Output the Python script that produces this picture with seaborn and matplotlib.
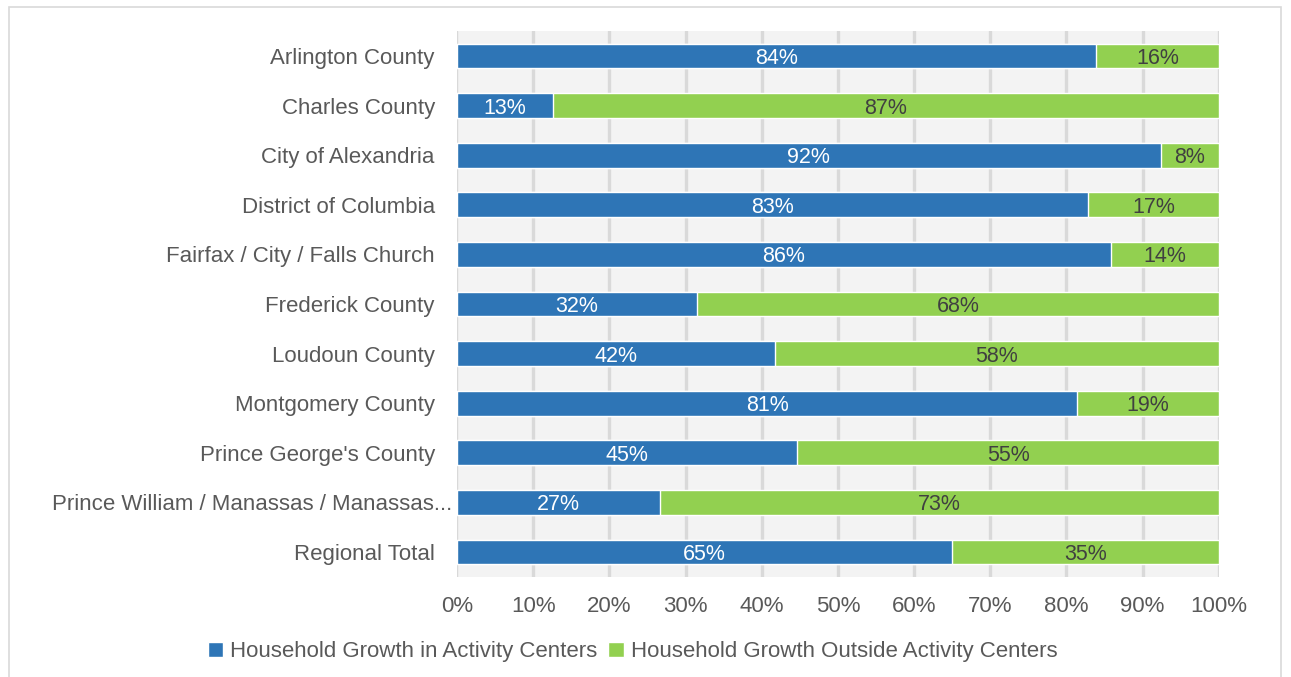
import matplotlib
matplotlib.use("Agg")
import matplotlib.pyplot as plt
import matplotlib.transforms as mtransforms
from matplotlib.patches import Patch, Rectangle
import seaborn as sns
import pandas as pd
import numpy as np

# data (share of household growth)
areas = ["Arlington County", "Charles County", "City of Alexandria",
         "District of Columbia", "Fairfax / City / Falls Church",
         "Frederick County", "Loudoun County", "Montgomery County",
         "Prince George's County", "Prince William / Manassas / Manassas...",
         "Regional Total"]
in_centers = [0.839, 0.126, 0.924, 0.829, 0.858, 0.315, 0.417, 0.814, 0.447, 0.266, 0.650]
outside_centers = [0.161, 0.874, 0.076, 0.171, 0.142, 0.685, 0.583, 0.186, 0.553, 0.734, 0.350]
series_names = ["Household Growth in Activity Centers",
                "Household Growth Outside Activity Centers"]

BLUE = "#2E75B6"
GREEN = "#92D050"
TEXT = "#595959"

sns.set_style("white")
plt.rcParams["font.family"] = ["Liberation Sans", "DejaVu Sans"]

df = pd.DataFrame({"area": areas, "inside": in_centers, "outside": outside_centers})
df["total"] = df["inside"] + df["outside"]

fig = plt.figure(figsize=(12.91, 6.77), dpi=100)
ax = fig.add_axes([0.354, 0.148, 0.590, 0.806])
ax.set_facecolor("#F3F3F3")

# stacked: full bar in green, then blue portion on top
sns.barplot(data=df, x="total", y="area", orient="h", color=GREEN,
            width=0.5, saturation=1, ax=ax, zorder=3)
sns.barplot(data=df, x="inside", y="area", orient="h", color=BLUE,
            width=0.5, saturation=1, ax=ax, zorder=4)

for i, (a, b) in enumerate(zip(in_centers, outside_centers)):
    ax.text(a / 2, i, f"{a:.0%}", ha="center", va="center_baseline", color="white",
            fontsize=15.5, zorder=5)
    ax.text(a + b / 2, i, f"{b:.0%}", ha="center", va="center_baseline", color="#404040",
            fontsize=15.5, zorder=5)

ax.set_xlim(0, 1)
ax.set_ylim(len(areas) - 0.5, -0.5)
ax.set_xticks(np.arange(0, 1.01, 0.1))
ax.set_xticklabels([f"{int(round(t * 100))}%" for t in np.arange(0, 1.01, 0.1)])
for x in np.arange(0.1, 1.01, 0.1):
    ax.axvline(x, color="#D9D9D9", lw=2.4, zorder=1)
ax.axvline(0, color="#D9D9D9", lw=1.0, zorder=1)

ax.set_xlabel("")
ax.set_ylabel("")
for s in ax.spines.values():
    s.set_visible(False)
ax.tick_params(axis="y", length=0, pad=16, labelsize=16, labelcolor=TEXT)
ax.tick_params(axis="x", length=0, pad=14, labelsize=16, labelcolor=TEXT)

# the truncated label sits closer to the bars in the original
for lab in ax.get_yticklabels():
    if lab.get_text().endswith("..."):
        lab.set_transform(lab.get_transform() +
                          mtransforms.ScaledTranslation(17 / 100, 0, fig.dpi_scale_trans))

handles = [Patch(facecolor=BLUE, label=series_names[0]),
           Patch(facecolor=GREEN, label=series_names[1])]
leg = fig.legend(handles=handles, loc="center", bbox_to_anchor=(0.49, 0.037),
                 ncol=2, frameon=False, fontsize=16, handlelength=0.7,
                 handleheight=0.7, handletextpad=0.3, columnspacing=0.5)
for t in leg.get_texts():
    t.set_color(TEXT)

# outer chart frame
fig.patches.append(Rectangle((9 / 1291, -0.05), 1272 / 1291, 1.05 - 7 / 677,
                             transform=fig.transFigure, fill=False,
                             edgecolor="#D9D9D9", lw=1.2))

fig.savefig("out.png", dpi=100)
